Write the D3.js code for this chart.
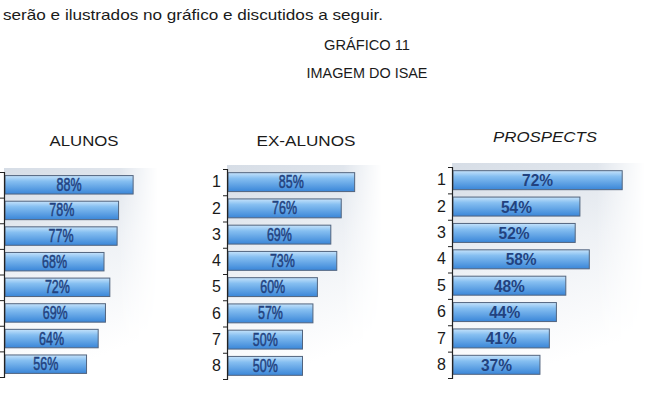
<!DOCTYPE html>
<html>
<head>
<meta charset="utf-8">
<script src="https://cdn.jsdelivr.net/npm/d3@7"></script>
<style>
  body { margin: 0; background: #fff; }
  text { font-family: "Liberation Sans", Arial, sans-serif; }
</style>
</head>
<body>
<div id="grafico"></div>
<script>
// dados do gráfico
const categorias = ['1', '2', '3', '4', '5', '6', '7', '8'];
const alunos = [88, 78, 77, 68, 72, 69, 64, 56];
const exAlunos = [85, 76, 69, 73, 60, 57, 50, 50];
const prospects = [72, 54, 52, 58, 48, 44, 41, 37];
const titulos = ['ALUNOS', 'EX-ALUNOS', 'PROSPECTS'];

const width = 647, height = 395;

let svg = d3.select('#grafico')
  .append('svg')
  .attr('width', width)
  .attr('height', height);

let defs = svg.append('defs');

// gradiente das barras
let gBar = defs.append('linearGradient').attr('id', 'barra')
  .attr('x1', 0).attr('y1', 0).attr('x2', 0).attr('y2', 1);
gBar.append('stop').attr('offset', '0%').attr('stop-color', '#c6e3fb');
gBar.append('stop').attr('offset', '30%').attr('stop-color', '#86bff1');
gBar.append('stop').attr('offset', '100%').attr('stop-color', '#3a86d8');

// fundo cinza da area do grafico
let gFundo = defs.append('linearGradient').attr('id', 'fundo')
  .attr('x1', 0).attr('y1', 0).attr('x2', 0.3).attr('y2', 1);
gFundo.append('stop').attr('offset', '0%').attr('stop-color', '#d6dde6');
gFundo.append('stop').attr('offset', '50%').attr('stop-color', '#eef1f5');
gFundo.append('stop').attr('offset', '100%').attr('stop-color', '#ffffff');

let gMask = defs.append('linearGradient').attr('id', 'fade')
  .attr('x1', 0).attr('y1', 0).attr('x2', 1).attr('y2', 0);
gMask.append('stop').attr('offset', '0%').attr('stop-color', '#fff');
gMask.append('stop').attr('offset', '75%').attr('stop-color', '#fff');
gMask.append('stop').attr('offset', '100%').attr('stop-color', '#000');

// textos do documento
svg.append('text').attr('x', 3).attr('y', 20)
  .attr('font-size', 15).attr('fill', '#1a1a1a')
  .attr('textLength', 380).attr('lengthAdjust', 'spacingAndGlyphs')
  .text('serão e ilustrados no gráfico e discutidos a seguir.');

svg.append('text').attr('x', 367).attr('y', 50)
  .attr('text-anchor', 'middle').attr('font-size', 15).attr('fill', '#1a1a1a')
  .attr('textLength', 86).attr('lengthAdjust', 'spacingAndGlyphs')
  .text('GRÁFICO 11');

svg.append('text').attr('x', 367).attr('y', 78)
  .attr('text-anchor', 'middle').attr('font-size', 15).attr('fill', '#1a1a1a')
  .attr('textLength', 121).attr('lengthAdjust', 'spacingAndGlyphs')
  .text('IMAGEM DO ISAE');

// posicao de cada painel
const paineis = [
  { dados: alunos, titulo: titulos[0], tx: 84, ty: 146, tw: 69, italic: false,
    x0: 4, x1: 150.6, y0: 172, y1: 377, bgRight: 158, labW: 25, numeros: false },
  { dados: exAlunos, titulo: titulos[1], tx: 306, ty: 146, tw: 99, italic: false,
    x0: 227, x1: 377, y0: 169, y1: 379, bgRight: 382, labW: 25, numeros: true },
  { dados: prospects, titulo: titulos[2], tx: 545, ty: 142, tw: 104, italic: true,
    x0: 452, x1: 688, y0: 167, y1: 378, bgRight: 645, labW: null, numeros: true }
];

function drawPainel(p, idx) {
  const xScale = d3.scaleLinear().domain([0, 100]).range([p.x0 + 1, p.x1]);
  const yScale = d3.scaleBand().domain(categorias).range([p.y0, p.y1])
    .paddingInner(0.28).paddingOuter(0.14);
  const tickScale = d3.scaleLinear().domain([0, categorias.length]).range([p.y0, p.y1]);

  let g = svg.append('g').attr('class', 'painel-' + idx);

  // titulo do painel
  g.append('text')
    .attr('x', p.tx).attr('y', p.ty)
    .attr('text-anchor', 'middle')
    .attr('font-size', 15)
    .attr('font-style', p.italic ? 'italic' : 'normal')
    .attr('fill', '#1a1a1a')
    .attr('textLength', p.tw).attr('lengthAdjust', 'spacingAndGlyphs')
    .text(p.titulo);

  // fundo
  let mask = defs.append('mask').attr('id', 'm' + idx);
  mask.append('rect')
    .attr('x', p.x0).attr('y', p.y0 - 4)
    .attr('width', p.bgRight - p.x0).attr('height', p.y1 - p.y0 + 4)
    .attr('fill', 'url(#fade)');
  g.append('rect')
    .attr('x', p.x0).attr('y', p.y0 - 4)
    .attr('width', p.bgRight - p.x0).attr('height', p.y1 - p.y0 + 4)
    .attr('fill', 'url(#fundo)')
    .attr('mask', 'url(#m' + idx + ')');

  // barras
  g.selectAll('rect.bar')
    .data(p.dados)
    .enter()
    .append('rect')
    .attr('class', 'bar')
    .attr('x', xScale(0))
    .attr('y', (d, i) => yScale(categorias[i]))
    .attr('width', d => xScale(d) - xScale(0))
    .attr('height', yScale.bandwidth())
    .attr('fill', 'url(#barra)')
    .attr('stroke', '#52647e')
    .attr('stroke-width', 1);

  // rotulos
  let lab = g.selectAll('text.lab')
    .data(p.dados)
    .enter()
    .append('text')
    .attr('class', 'lab')
    .attr('x', d => (xScale(0) + xScale(d)) / 2)
    .attr('y', (d, i) => yScale(categorias[i]) + yScale.bandwidth() / 2 + 6)
    .attr('text-anchor', 'middle')
    .attr('font-size', p.labW ? 18 : 17)
    .attr('font-weight', p.labW ? 'normal' : 'bold')
    .attr('fill', '#22427f')
    .text(d => d + '%');
  if (p.labW) {
    lab.attr('textLength', p.labW).attr('lengthAdjust', 'spacingAndGlyphs')
      .attr('stroke', '#22427f').attr('stroke-width', 0.5);
  } else {
    lab.attr('textLength', 31).attr('lengthAdjust', 'spacingAndGlyphs');
  }

  // eixo com marcas entre as categorias
  const axTicks = d3.axisLeft(tickScale)
    .tickValues(d3.range(0, categorias.length + 1))
    .tickSize(4)
    .tickFormat('');
  g.append('g')
    .attr('transform', `translate(${p.x0}, 0)`)
    .call(axTicks)
    .call(a => a.select('.domain').attr('stroke', '#222').attr('stroke-width', 1.2))
    .call(a => a.selectAll('.tick line').attr('stroke', '#222'));

  // numeros das categorias
  if (p.numeros) {
    const axLab = d3.axisLeft(yScale).tickSize(0).tickPadding(6);
    g.append('g')
      .attr('transform', `translate(${p.x0}, 0)`)
      .call(axLab)
      .call(a => a.select('.domain').remove())
      .call(a => a.selectAll('text')
        .attr('font-size', 16)
        .attr('font-family', '"Liberation Sans", Arial, sans-serif')
        .attr('fill', '#1a1a1a'));
  }
}

paineis.forEach(drawPainel);
</script>
</body>
</html>
